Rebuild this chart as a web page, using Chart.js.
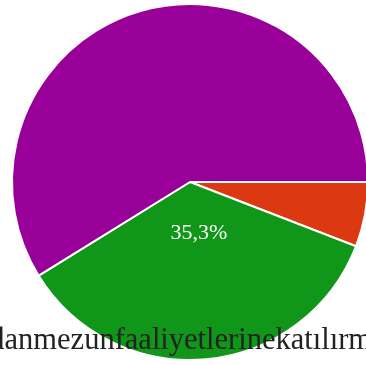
<!DOCTYPE html>
<html>
<head>
<meta charset="utf-8">
<script src="https://cdn.jsdelivr.net/npm/chart.js@4"></script>
<style>
  html, body { margin: 0; padding: 0; overflow: hidden; background: #fff; }
  #wrap { width: 380px; height: 365px; }
</style>
</head>
<body>
<div id="wrap"><canvas id="pieChart"></canvas></div>
<script>
const answers = ["Hayır", "Bazen", "Evet"];
const counts = [1, 6, 10];
const sliceColors = ["#dc3912", "#109618", "#990099"];
const captionText = "Okuldanmezunfaaliyetlerinekatılırmısınız?";
const shownLabels = [false, true, false];
const serif = '"Liberation Serif", "Times New Roman", Times, serif';

// slice percentages in Turkish format + caption over the pie
const labelPlugin = {
  id: "pieLabels",
  afterDraw(chart) {
    const ctx = chart.ctx;
    const meta = chart.getDatasetMeta(0);
    const total = counts.reduce((a, b) => a + b, 0);
    ctx.save();
    ctx.font = "22px " + serif;
    ctx.fillStyle = "#ffffff";
    ctx.textAlign = "center";
    ctx.textBaseline = "middle";
    meta.data.forEach((arc, i) => {
      if (!shownLabels[i]) return;
      const p = arc.getProps(["x", "y", "startAngle", "endAngle", "outerRadius"]);
      const mid = (p.startAngle + p.endAngle) / 2 - 0.08;
      const r = p.outerRadius * 0.29;
      const pct = (counts[i] / total * 100).toFixed(1).replace(".", ",") + "%";
      ctx.fillText(pct, p.x + Math.cos(mid) * r, p.y + Math.sin(mid) * r);
    });

    ctx.font = "30.5px " + serif;
    ctx.fillStyle = "#222222";
    ctx.textBaseline = "alphabetic";
    ctx.fillText(captionText, chart.width / 2, 349);
    ctx.restore();
  }
};

new Chart(document.getElementById("pieChart").getContext("2d"), {
  type: "pie",
  data: {
    labels: answers,
    datasets: [{
      data: counts,
      backgroundColor: sliceColors,
      borderColor: "#ffffff",
      borderWidth: 2,
    }]
  },
  options: {
    responsive: true,
    maintainAspectRatio: false,
    animation: false,
    rotation: 90,
    layout: { padding: { top: 3, bottom: 4, left: 3, right: 3 } },
    plugins: {
      legend: { display: false },
      tooltip: { enabled: false },
    }
  },
  plugins: [labelPlugin]
});
</script>
</body>
</html>
